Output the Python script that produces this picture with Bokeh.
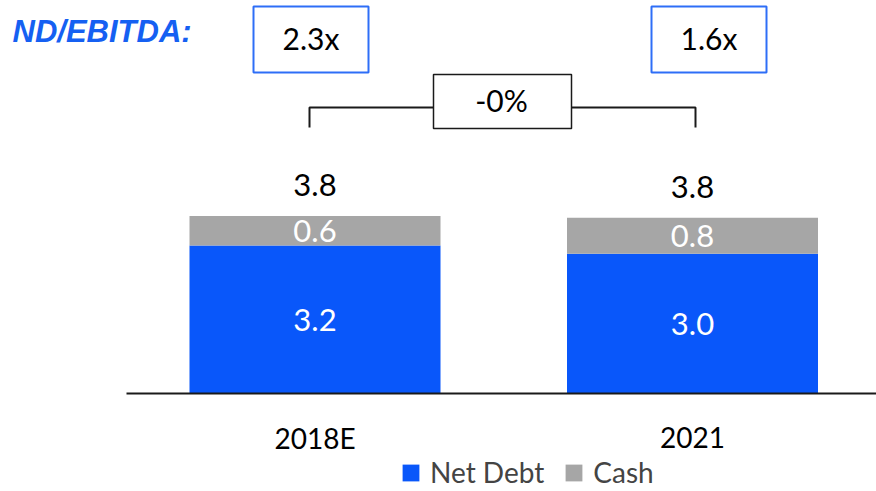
from bokeh.plotting import figure
from bokeh.models import Range1d, Legend, LegendItem
from bokeh.core.properties import value
from bokeh.embed import file_html
from bokeh.resources import INLINE

# ---- data ----
categories = ["2018E", "2021"]
net_debt = [3.20, 3.02]
cash = [0.64, 0.78]
nd_ebitda = ["2.3x", "1.6x"]
change_label = "-0%"
title_text = "ND/EBITDA:"
series_names = ["Net Debt", "Cash"]

# ---- style / layout ----
BLUE = "#0957FA"
GRAY = "#A6A6A6"
TITLE_BLUE = "#1560F2"
BOX_BLUE = "#2E6EF7"
W, H = 876, 491
ORIGIN = 0        # page offset of the figure
PX_X = 377.5      # px per category step
PX_Y = 46.25      # px per unit
X0_PAGE = 314.5   # page x of first category centre
BASE_PAGE = 393   # page y of baseline
NUM_FONT = "Lato"


def dx(page_x):
    return (page_x - X0_PAGE) / PX_X


def dy(page_y):
    return (BASE_PAGE - page_y) / PX_Y


idx = list(range(len(categories)))
totals = [a + b for a, b in zip(net_debt, cash)]

p = figure(width=W, height=H, output_backend="svg", toolbar_location=None,
           x_range=Range1d(dx(ORIGIN), dx(ORIGIN + W)), y_range=Range1d(dy(ORIGIN + H), dy(ORIGIN)),
           x_axis_location=None, y_axis_location=None,
           min_border=0, outline_line_color=None)
p.grid.visible = False
p.background_fill_color = "white"

bar_w = 251 / PX_X
r_net = p.vbar(x=idx, bottom=0, top=net_debt, width=bar_w, fill_color=BLUE, line_color=None)
r_cash = p.vbar(x=idx, bottom=net_debt, top=totals, width=bar_w, fill_color=GRAY, line_color=None)

# baseline
p.segment(x0=[dx(126)], y0=[0], x1=[dx(ORIGIN + W)], y1=[0], line_color="#1a1a1a", line_width=2)

# value labels
p.text(x=idx, y=[v / 2 for v in net_debt], text=[f"{v:.1f}" for v in net_debt],
       text_color="white", text_align="center", text_baseline="middle",
       text_font=value(NUM_FONT), text_font_size="31px")
p.text(x=idx, y=[n + c / 2 for n, c in zip(net_debt, cash)], text=[f"{v:.1f}" for v in cash],
       text_color="white", text_align="center", text_baseline="middle",
       text_font=value(NUM_FONT), text_font_size="31px")
p.text(x=idx, y=totals, y_offset=-31, text=[f"{v:.1f}" for v in totals],
       text_color="black", text_align="center", text_baseline="middle",
       text_font=value(NUM_FONT), text_font_size="31px")

# category labels
p.text(x=idx, y=[0] * len(idx), y_offset=44, text=categories,
       text_color="black", text_align="center", text_baseline="middle",
       text_font=value(NUM_FONT), text_font_size="28px")

# ND/EBITDA boxes
box_x = [dx(310.5), dx(708.5)]
box_y = [dy(39)] * 2
p.rect(x=box_x, y=box_y, width=115, height=66, width_units="screen", height_units="screen",
       fill_color="white", line_color=BOX_BLUE, line_width=2)
p.text(x=box_x, y=box_y, y_offset=-2, text=nd_ebitda, text_color="black", text_align="center",
       text_baseline="middle", text_font=value(NUM_FONT), text_font_size="30px")

# bracket + change box
p.line(x=[dx(309), dx(309), dx(695), dx(695)], y=[dy(127), dy(107), dy(107), dy(127)],
       line_color="#1a1a1a", line_width=2)
p.rect(x=[dx(502)], y=[dy(101)], width=138, height=54, width_units="screen", height_units="screen",
       fill_color="white", line_color="#1a1a1a", line_width=1.5)
p.text(x=[dx(501)], y=[dy(100)], y_offset=-1, text=[change_label], text_color="black", text_align="center",
       text_baseline="middle", text_font=value(NUM_FONT), text_font_size="30px")

# title
p.text(x=[dx(12)], y=[dy(31)], text=[title_text], text_color=TITLE_BLUE, text_align="left",
       text_baseline="middle", text_font=value("Liberation Sans"), text_font_size="31px",
       text_font_style="bold italic")

legend = Legend(items=[LegendItem(label=series_names[0], renderers=[r_net]),
                       LegendItem(label=series_names[1], renderers=[r_cash])],
                location=(400 - ORIGIN, 2), orientation="horizontal",
                glyph_width=21, glyph_height=21, label_standoff=9, spacing=19,
                padding=0, margin=0, border_line_color=None, background_fill_alpha=0,
                label_text_font=NUM_FONT, label_text_font_size="28px",
                label_text_baseline="middle", label_height=21)
p.add_layout(legend)

open("out.html", "w").write(file_html(p, INLINE))
